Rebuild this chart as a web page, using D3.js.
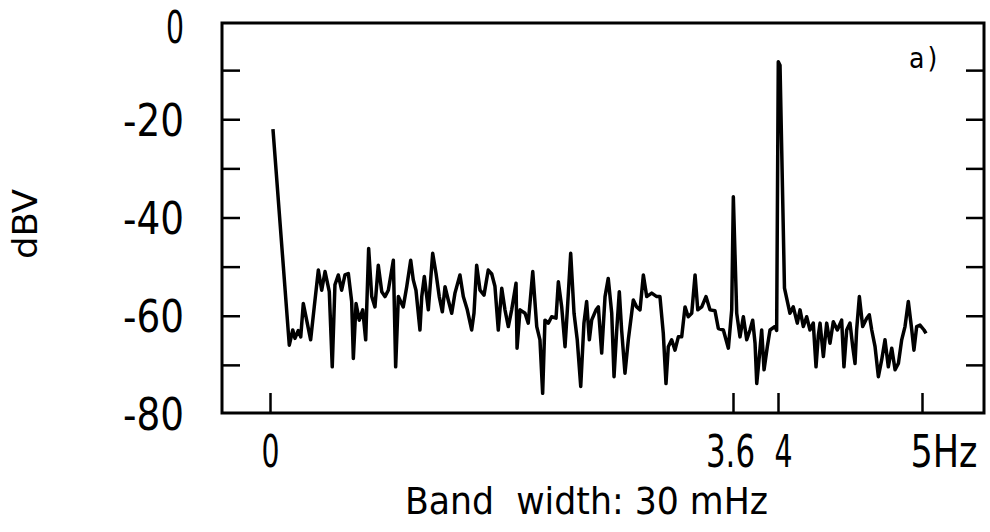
<!DOCTYPE html>
<html>
<head>
<meta charset="utf-8">
<script src="https://cdn.jsdelivr.net/npm/d3@7"></script>
<style>
    body { margin: 0; background: #fff; }
    text { font-family: "Liberation Sans Narrow", "DejaVu Sans Condensed", sans-serif; fill: #000; }
</style>
</head>
<body>
<svg class="chart" width="990" height="532"></svg>
<script>
// spectrum (Hz, dBV)
let freq = [0.023, 0.150, 0.177, 0.194, 0.220, 0.239, 0.259, 0.285, 0.316, 0.344,
    0.376, 0.402, 0.428, 0.461, 0.484, 0.505, 0.531, 0.557, 0.583, 0.609,
    0.635, 0.648, 0.669, 0.694, 0.721, 0.744, 0.767, 0.791, 0.816, 0.842,
    0.869, 0.894, 0.920, 0.959, 0.977, 0.998, 1.036, 1.063, 1.094, 1.114,
    1.135, 1.166, 1.180, 1.200, 1.231, 1.265, 1.291, 1.316, 1.340, 1.361,
    1.386, 1.413, 1.438, 1.477, 1.503, 1.534, 1.568, 1.586, 1.607, 1.633,
    1.664, 1.697, 1.724, 1.749, 1.775, 1.802, 1.827, 1.853, 1.879, 1.913,
    1.921, 1.944, 1.983, 2.008, 2.043, 2.074, 2.099, 2.120, 2.138, 2.164,
    2.190, 2.224, 2.242, 2.268, 2.294, 2.312, 2.338, 2.364, 2.389, 2.416,
    2.441, 2.462, 2.483, 2.501, 2.535, 2.553, 2.579, 2.605, 2.630, 2.657,
    2.675, 2.696, 2.716, 2.734, 2.760, 2.786, 2.825, 2.851, 2.877, 2.903,
    2.929, 2.968, 3.007, 3.032, 3.058, 3.079, 3.097, 3.123, 3.149, 3.175,
    3.201, 3.227, 3.252, 3.279, 3.305, 3.326, 3.357, 3.390, 3.421, 3.460,
    3.486, 3.525, 3.564, 3.590, 3.603, 3.633, 3.662, 3.692, 3.722, 3.751,
    3.775, 3.796, 3.811, 3.834, 3.855, 3.876, 3.905, 3.929, 3.973, 3.988,
    4.002, 4.014, 4.045, 4.083, 4.106, 4.134, 4.153, 4.176, 4.199, 4.222,
    4.245, 4.264, 4.280, 4.292, 4.315, 4.338, 4.361, 4.384, 4.412, 4.442,
    4.458, 4.477, 4.500, 4.519, 4.535, 4.546, 4.565, 4.588, 4.616, 4.634,
    4.651, 4.674, 4.697, 4.720, 4.743, 4.766, 4.790, 4.813, 4.836, 4.859,
    4.882, 4.905, 4.929, 4.944, 4.963, 4.986, 5.014, 5.028];
let dbv = [-22, -66, -62.9, -64.6, -63, -64.3, -57.5, -60.9, -64.9, -58.2,
    -50.7, -54.8, -51, -55.1, -70.4, -53.7, -51.7, -54.8, -51.7, -51.4,
    -57.1, -68.7, -57.5, -60.9, -58.8, -64.9, -46.3, -56.1, -58.2, -49.7,
    -55.1, -56.1, -54.8, -48.7, -70.4, -56.1, -58.2, -54.1, -48.7, -52.7,
    -54.8, -62.9, -56.1, -52, -58.8, -47.3, -51.4, -56.1, -59.2, -54.1,
    -56.8, -59.5, -55.4, -51.7, -56.1, -58.8, -62.9, -59.5, -49.7, -54.8,
    -55.8, -50.7, -51.5, -54, -62.9, -54.4, -58.8, -62.2, -58.8, -53.4,
    -66.6, -58.8, -59.5, -61.5, -51, -62.2, -64.9, -75.8, -60.9, -61.5,
    -60.2, -60.5, -53.1, -58.2, -66.3, -58.8, -47.3, -59.5, -64.9, -74.4,
    -61.5, -57.1, -64.9, -60.9, -58.8, -58.2, -67.6, -56.1, -52.4, -59.5,
    -72.4, -62.9, -55.1, -62.9, -71.7, -64.9, -56.8, -58.2, -58.8, -51.7,
    -56.1, -55.4, -56.1, -56.1, -63.6, -73.8, -66.3, -64.9, -67, -64.3,
    -64.3, -58.2, -60.2, -59.5, -51.7, -58.8, -58.2, -56.1, -58.8, -59,
    -62.6, -62.9, -66.6, -58.8, -35.8, -59.5, -64.3, -60.2, -64.9, -62.9,
    -60.9, -65.6, -73.8, -68.3, -62.9, -71, -66.3, -62.9, -62.2, -63,
    -8.3, -9, -54.4, -59.5, -58.2, -61.5, -58.8, -62.2, -60.2, -62.9,
    -61.5, -70.4, -64, -61.5, -68.3, -61.5, -65.6, -61.2, -62.9, -60.9,
    -70.4, -62.9, -61.5, -66.3, -69.7, -62.9, -56.1, -62.2, -60.5, -59.8,
    -62.9, -66.3, -72.4, -69, -64.9, -70.4, -66.6, -71, -69.7, -64.9,
    -62.2, -57.1, -62.9, -67, -62.2, -61.9, -62.9, -63.6];

let xTicks = [0, 3.6, 4, 5];
let xLabels = ["0", "3.6", "4", "5Hz"];
let yTicks = [-10, -20, -30, -40, -50, -60, -70];
let yLabels = [0, -20, -40, -60, -80];

let boxLeft = 222, boxRight = 984, boxTop = 23, boxBottom = 413;

var svg = d3.select(".chart");

// the hand drawn axis is not evenly spaced, so the scale is piecewise
var x = d3.scaleLinear().domain([0, 3.6, 4, 5]).range([270, 733, 778, 922]);
var y = d3.scaleLinear().domain([-80, 0]).range([414, 21]);

// frame
svg.append("path")
    .attr("d", "M" + boxLeft + "," + boxTop + "H" + boxRight + "V" + boxBottom + "H" + boxLeft + "Z")
    .attr("fill", "none")
    .attr("stroke", "#000")
    .attr("stroke-width", 3);

function styleTicks(g) {
    g.select(".domain").remove();
    g.selectAll(".tick line").attr("stroke", "#000").attr("stroke-width", 2.5);
}

svg.append("g")
    .attr("transform", "translate(" + boxLeft + ",0)")
    .call(d3.axisRight(y).tickValues(yTicks).tickSize(18).tickFormat(""))
    .call(styleTicks);

svg.append("g")
    .attr("transform", "translate(" + boxRight + ",0)")
    .call(d3.axisLeft(y).tickValues(yTicks).tickSize(18).tickFormat(""))
    .call(styleTicks);

svg.append("g")
    .attr("transform", "translate(0," + boxBottom + ")")
    .call(d3.axisTop(x).tickValues(xTicks).tickSize(20).tickFormat(""))
    .call(styleTicks);

// the lettering is narrow, so squeeze each label to its width in the picture
function labelWidth(s) {
    if (s.length == 1) return 18;
    if (s == "3.6") return 49;
    if (s == "5Hz") return 67;
    return 61;
}

let yl = svg.append("g")
    .attr("transform", "translate(" + boxLeft + ",0)")
    .call(d3.axisLeft(y).tickValues(yLabels).tickSize(0).tickPadding(38)
        .tickFormat(function(d) { return d == 0 ? "0" : "-" + Math.abs(d); }));
yl.select(".domain").remove();
yl.attr("font-family", null).attr("font-size", null);
yl.selectAll("text")
    .attr("font-size", 44)
    .attr("dy", function(d) { return d == 0 ? "0.48em" : "0.36em"; })
    .attr("textLength", function() { return labelWidth(this.textContent); })
    .attr("lengthAdjust", "spacingAndGlyphs");

let xl = svg.append("g")
    .attr("transform", "translate(0," + boxBottom + ")")
    .call(d3.axisBottom(x).tickValues(xTicks).tickSize(0).tickPadding(23)
        .tickFormat(function(d, i) { return xLabels[i]; }));
xl.select(".domain").remove();
xl.attr("font-family", null).attr("font-size", null);
xl.selectAll("text")
    .attr("font-size", 44)
    .attr("textLength", function() { return labelWidth(this.textContent); })
    .attr("lengthAdjust", "spacingAndGlyphs")
    .attr("text-anchor", function(d) { return d == 5 ? "start" : "middle"; })
    .attr("x", function(d) {
        if (d == 5) return -12;
        if (d == 3.6) return -3;
        if (d == 4) return 5;
        return 0;
    });

svg.append("text")
    .attr("x", 405)
    .attr("y", 514)
    .attr("font-size", 38)
    .attr("textLength", 363)
    .attr("lengthAdjust", "spacingAndGlyphs")
    .style("white-space", "pre")
    .text("Band  width: 30 mHz");

svg.append("text")
    .attr("transform", "translate(37,259) rotate(-90)")
    .attr("font-size", 34)
    .attr("textLength", 70)
    .attr("lengthAdjust", "spacingAndGlyphs")
    .text("dBV");

svg.append("text")
    .attr("x", 909)
    .attr("y", 68)
    .attr("font-size", 28)
    .attr("letter-spacing", 3)
    .text("a)");

// trace
let points = freq.map(function(f, i) { return [f, dbv[i]]; });
var line = d3.line()
    .x(function(d) { return x(d[0]); })
    .y(function(d) { return y(d[1]); });

svg.append("path")
    .datum(points)
    .attr("d", line)
    .attr("fill", "none")
    .attr("stroke", "#000")
    .attr("stroke-width", 3.5)
    .attr("stroke-linejoin", "round");
</script>
</body>
</html>
